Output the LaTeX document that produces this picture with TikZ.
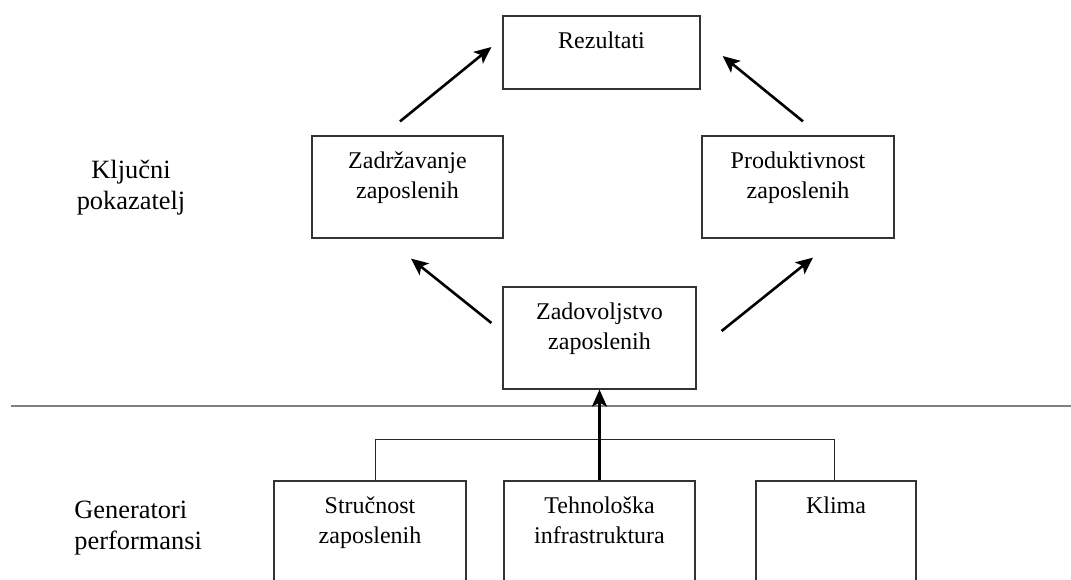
\documentclass[tikz,border=0pt]{standalone}
\usepackage{fontspec}
\setmainfont{Liberation Serif}
\usetikzlibrary{positioning,calc,arrows.meta}

\tikzset{
  box/.style={draw=black!80, line width=0.6pt, rectangle, inner sep=0pt},
  boxtext/.style={anchor=north, align=center, inner sep=0pt, font=\fontsize{12}{15}\selectfont},
  sidetext/.style={inner sep=0pt, font=\fontsize{13.2}{15.5}\selectfont},
  arr/.style={line width=1.3pt, -{Stealth[length=8.5pt,width=7.5pt,inset=2pt]}},
  link/.style={draw=black!85, line width=0.5pt},
  divider/.style={draw=black!50, line width=0.7pt}
}

\begin{document}
\begin{tikzpicture}[x=0.5pt,y=-0.5pt]
\useasboundingbox (0,0) rectangle (1071,579);
\clip (0,0) rectangle (1071,579);

% Upper boxes
\node[box, minimum width=98.5pt, minimum height=36.5pt] (rez) at (601.5,52.5) {};
\node[box, minimum width=95.5pt, minimum height=51pt] (zadr) at (407.5,187) {};
\node[box, minimum width=96pt, minimum height=51pt] (prod) at (798,187) {};
\node[box, minimum width=96.5pt, minimum height=51pt] (zadov) at (599.5,338) {};

% Lower boxes (cut at the bottom)
\node[box, minimum width=96pt, minimum height=79.5pt] (strucn) at (370,560.5) {};
\node[box, minimum width=95.5pt, minimum height=79.5pt] (tehno) at (599.5,560.5) {};
\node[box, minimum width=80pt, minimum height=79.5pt] (klima) at (836,560.5) {};

% Box texts
\node[boxtext] (rezt) at ([yshift=-7.8pt]rez.north) {Rezultati};
\node[boxtext] (zadrt) at ([yshift=-7.8pt]zadr.north) {Zadržavanje\\zaposlenih};
\node[boxtext] (prodt) at ([yshift=-7.8pt]prod.north) {Produktivnost\\zaposlenih};
\node[boxtext] (zadovt) at ([yshift=-7.8pt]zadov.north) {Zadovoljstvo\\zaposlenih};
\node[boxtext] (strucnt) at ([yshift=-7.8pt]strucn.north) {Stručnost\\zaposlenih};
\node[boxtext] (tehnot) at ([yshift=-7.8pt]tehno.north) {Tehnološka\\infrastruktura};
\node[boxtext] (klimat) at ([yshift=-7.8pt]klima.north) {Klima};

% Side labels
\node[sidetext, align=center, anchor=north] (kpi) at (131,160) {Ključni\\pokazatelj};
\node[sidetext, align=left, anchor=north west] (gen) at (74,501) {Generatori\\performansi};

% Divider
\draw[divider] (11,406) -- (1071,406);

% Arrows
\draw[arr] ($(zadr.north)+(-7.5,-14)$) -- ($(rez.west)+(-11,-5.5)$);
\draw[arr] ($(prod.north)+(5,-14)$) -- ($(rez.east)+(22,3.5)$);
\draw[arr] ($(zadov.west)+(-11,-15)$) -- ($(zadr.south)+(3.5,20)$);
\draw[arr] ($(zadov.east)+(25,-7)$) -- ($(prod.south)+(15,19)$);

% Bracket of generators
\coordinate (bar) at (0,439);
\draw[link] ($(strucn.north)+(5,0)$) |- ($(klima.north |- bar)+(-2,0)$) -- ($(klima.north)+(-2,0)$);
\draw[arr] (tehno.north) -- (zadov.south);

\end{tikzpicture}
\end{document}
